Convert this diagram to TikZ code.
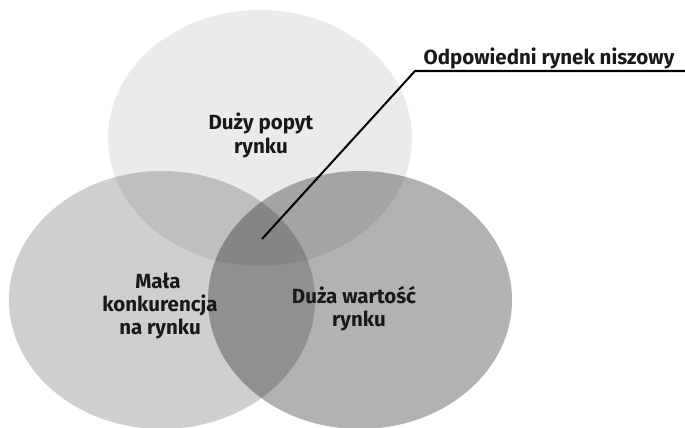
\documentclass[tikz,border=0pt]{standalone}
\usepackage{fontspec}
\setmainfont{Fira Sans}
\begin{document}
\begin{tikzpicture}[x=1pt,y=-1pt,
  lbl/.style={font=\bfseries\fontsize{20.5}{24}\selectfont, align=center, text=black!90, inner sep=0pt},
  setfill/.style={fill=black, fill opacity=#1, draw=none}]
\useasboundingbox (0,0) rectangle (685,428);
\begin{scope}
  \clip (0,0) rectangle (685,428);
  \path[setfill=0.08] (260,138) ellipse [x radius=152, y radius=128];
  \path[setfill=0.19] (162,300) ellipse [x radius=153, y radius=129];
  \path[setfill=0.30] (360,300) ellipse [x radius=152, y radius=129];
\end{scope}
\node[lbl, anchor=base] (top1) at (261,129) {Duży popyt};
\node[lbl, anchor=base] (top2) at (261,153) {rynku};
\node[lbl, anchor=base] (l1) at (158,288) {Mała};
\node[lbl, anchor=base] (l2) at (160,311) {konkurencja};
\node[lbl, anchor=base] (l3) at (160,334) {na rynku};
\node[lbl, anchor=base] (r1) at (354,303) {Duża wartość};
\node[lbl, anchor=base] (r2) at (359,326) {rynku};
\node[lbl, anchor=base] (niche) at (549,65) {Odpowiedni rynek niszowy};
\coordinate (tip) at (262,239);
\coordinate (knee) at (415,71);
\coordinate (lineend) at (685,71);
\draw[line width=2pt, black] (lineend) -- (knee) -- (tip);
\end{tikzpicture}
\end{document}
